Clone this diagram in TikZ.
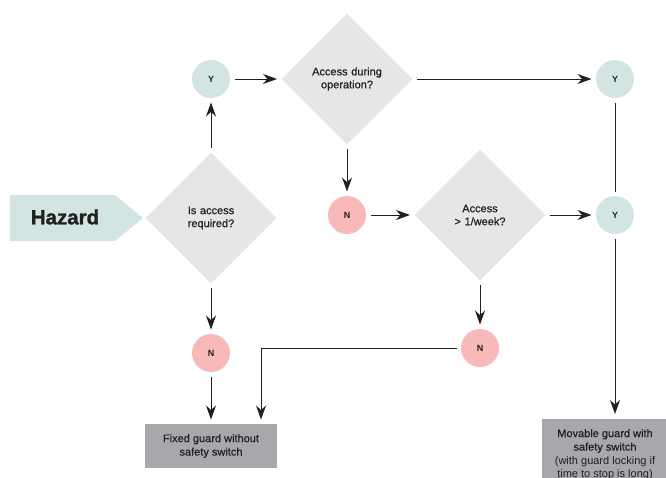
\documentclass[tikz,border=0pt]{standalone}
\usepackage{fontspec}
\setmainfont{Liberation Sans}
\newfontfamily\mediumfont{Liberation Sans}[FakeBold=0.6]
\newfontfamily\heavyfont{Liberation Sans Bold}[FakeBold=1.2]
\usetikzlibrary{shapes.geometric,arrows.meta}

\definecolor{hazteal}{RGB}{210,229,226}
\definecolor{nopink}{RGB}{248,185,185}
\definecolor{askgray}{RGB}{229,230,231}
\definecolor{guardgray}{RGB}{167,168,171}
\definecolor{inkdark}{RGB}{35,31,32}

\tikzset{every picture/.style={line width=1pt}}

\begin{document}
\begin{tikzpicture}[x=1pt,y=1pt,yscale=-1,xscale=1,
	question/.style={diamond, aspect=1, fill=askgray, minimum size=131pt, inner sep=0pt, text width=80pt, align=center, text=inkdark, font=\fontsize{11}{13}\mediumfont},
	yes/.style={circle, fill=hazteal, minimum size=38pt, inner sep=0pt, text=inkdark, font=\fontsize{9}{10}\selectfont\bfseries},
	no/.style={yes, fill=nopink},
	guard/.style={rectangle, fill=guardgray, inner sep=0pt, align=center, text=inkdark, font=\fontsize{11}{13.5}\mediumfont},
	flow/.style={draw=inkdark, -{Stealth[length=14pt,width=10pt]}, shorten <=4pt, shorten >=4pt},
	link/.style={draw=inkdark, shorten <=4pt, shorten >=4pt}]
	%set diagram size to the reference: 666 x 477
	\useasboundingbox (0,0) rectangle (666,477);

	%Shape: Hazard arrow
	\fill [hazteal] (10,195) -- (115,195) -- (143,218) -- (115,241) -- (10,241) -- cycle ;
	% Text Node
	\node [text=inkdark, font=\fontsize{20.5}{24}\heavyfont] (hazard) at (65,217) {Hazard};

	%Shape: Diamonds
	\node [question] (access) at (211,218) {Is access\\required?};
	\node [question] (during) at (347,79) {Access during\\operation?};
	\node [question] (often) at (480,215) {Access\\> 1/week?};

	%Shape: Circles
	\node [yes] (y1) at (211,79) {Y};
	\node [yes] (y2) at (615,79) {Y};
	\node [yes] (y3) at (615,215) {Y};
	\node [no] (n1) at (347,215) {N};
	\node [no] (n2) at (211,353) {N};
	\node [no] (n3) at (480,348) {N};

	%Shape: Rectangles
	\node [guard, minimum width=132pt, minimum height=44pt] (fixed) at (211,446) {Fixed guard without\\safety switch};
	\node [guard, minimum width=126pt, minimum height=72pt, anchor=north] (movable) at (605,418) {Movable guard with\\safety switch\\{\normalfont(with guard locking if}\\{\normalfont time to stop is long)}};

	%Straight Lines
	\draw [flow] (access.north) -- (y1.south) ;
	\draw [flow] (y1.east) -- (during.west) ;
	\draw [flow] (during.east) -- (y2.west) ;
	\draw [flow] (during.south) -- (n1.north) ;
	\draw [flow] (n1.east) -- (often.west) ;
	\draw [flow] (often.east) -- (y3.west) ;
	\draw [link] (y2.south) -- (y3.north) ;
	\draw [flow] (y3.south) -- (y3.south |- movable.north) ;
	\draw [flow] (often.south) -- (n3.north) ;
	\draw [flow] (n3.west) -| ([xshift=50pt]fixed.north) ;
	\draw [flow] (access.south) -- (n2.north) ;
	\draw [flow] (n2.south) -- (fixed.north) ;

\end{tikzpicture}
\end{document}
